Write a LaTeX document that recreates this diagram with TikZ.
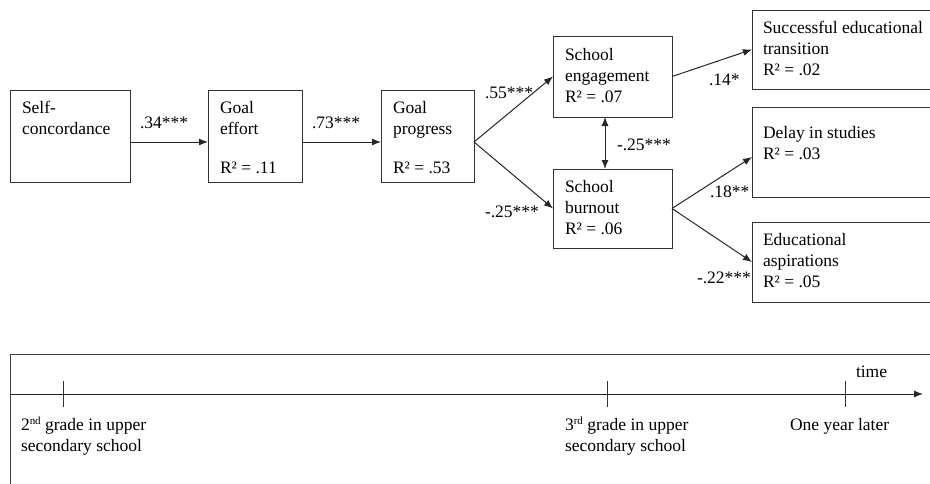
\documentclass[tikz,border=0pt]{standalone}
\usepackage{fontspec}
\setmainfont{Liberation Serif}
\usetikzlibrary{arrows.meta}
\newcommand{\pbx}[1]{\parbox[t]{190pt}{\raggedright #1}}
\newcommand{\supx}[1]{\raisebox{6pt}{\fontsize{11}{11}\selectfont #1}}
\begin{document}
\begin{tikzpicture}[x=1pt,y=-1pt,
  box/.style={draw=black!80, line width=1pt, rectangle, inner sep=0pt, outer sep=0pt},
  txt/.style={anchor=base west, inner sep=0pt, outer sep=0pt, font=\fontsize{17.5}{21}\selectfont},
  arr/.style={draw=black!85, line width=1pt, -{Latex[length=9pt,width=7pt]}},
  darr/.style={draw=black!85, line width=1pt, {Latex[length=9pt,width=7pt]}-{Latex[length=9pt,width=7pt]}},
  frame/.style={draw=black!75, line width=1pt},
  tick/.style={draw=black!80, line width=1pt}
]
\useasboundingbox (0,0) rectangle (930,483);
\clip (0,0) rectangle (930,483);

% boxes
\node[box, minimum width=120pt, minimum height=92pt] (SC) at (70,136) {};
\node[box, minimum width=94pt, minimum height=92pt] (GE) at (255,136) {};
\node[box, minimum width=93pt, minimum height=92pt] (GP) at (427.5,136) {};
\node[box, minimum width=119pt, minimum height=81pt] (SE) at (612.5,76.5) {};
\node[box, minimum width=119pt, minimum height=79pt] (SB) at (612.5,208.5) {};
\node[box, minimum width=200pt, minimum height=79pt] (ST) at (852,49.5) {};
\node[box, minimum width=200pt, minimum height=90pt] (DS) at (852,152) {};
\node[box, minimum width=200pt, minimum height=80pt] (EA) at (852,262) {};

% box texts
\node[txt] (SCt) at (22,113) {\pbx{Self-\\concordance}};
\node[txt] (GEt) at (220,113) {\pbx{Goal\\effort\\[18pt]R² = .11}};
\node[txt] (GPt) at (393,113) {\pbx{Goal\\progress\\[18pt]R² = .53}};
\node[txt] (SEt) at (565,60) {\pbx{School\\engagement\\R² = .07}};
\node[txt] (SBt) at (565,192) {\pbx{School\\burnout\\R² = .06}};
\node[txt] (STt) at (763,33) {\pbx{Successful educational\\transition\\R² = .02}};
\node[txt] (DSt) at (763,138) {\pbx{Delay in studies\\R² = .03}};
\node[txt] (EAt) at (763,245) {\pbx{Educational\\aspirations\\R² = .05}};

% connectors
\coordinate (br) at ([yshift=-6pt]GP.east);
\draw[arr] ([yshift=-6pt]SC.east) -- ([yshift=-6pt]GE.west);
\draw[arr] ([yshift=-6pt]GE.east) -- ([yshift=-6pt]GP.west);
\draw[arr] (br) -- (SE.west);
\draw[arr] (br) -- (SB.west);
\draw[darr] ([xshift=-7.5pt]SE.south) -- ([xshift=-7.5pt]SB.north);
\draw[arr] (SE.east) -- (ST.west);
\draw[arr] (SB.east) -- ([yshift=-5pt]DS.west);
\draw[arr] (SB.east) -- (EA.west);

% connector labels
\node[txt] (l1) at (140,128) {.34***};
\node[txt] (l2) at (312,128) {.73***};
\node[txt] (l3) at (485,98) {.55***};
\node[txt] (l4) at (485,217) {-.25***};
\node[txt] (l5) at (617,150) {-.25***};
\node[txt] (l6) at (709,85) {.14*};
\node[txt] (l7) at (710,197) {.18**};
\node[txt] (l8) at (697,283) {-.22***};

% timeline frame
\draw[frame] (10,495) -- (10,354) -- (945,354);
\coordinate (t0) at (10,394);
\coordinate (t1) at (923,394);
\draw[arr] (t0) -- (t1);
\draw[tick] (63,381) -- (63,407);
\draw[tick] (607,381) -- (607,407);
\draw[tick] (845,381) -- (845,407);

\node[txt] (tm) at (856,377) {time};
\node[txt] (g2) at (21,430) {\pbx{2\supx{nd} grade in upper\\secondary school}};
\node[txt] (g3) at (565,430) {\pbx{3\supx{rd} grade in upper\\secondary school}};
\node[txt] (oy) at (790,430) {One year later};
\end{tikzpicture}
\end{document}
